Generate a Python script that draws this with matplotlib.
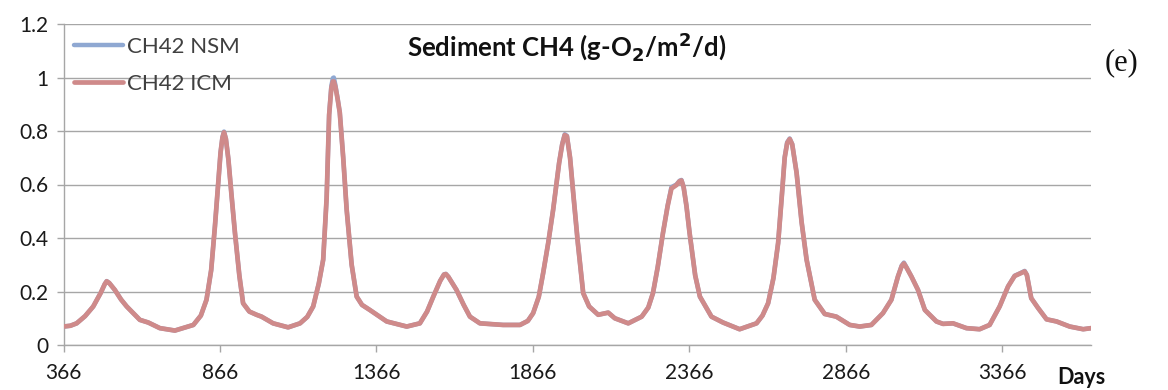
import matplotlib
matplotlib.use("Agg")
import matplotlib.pyplot as plt

# simulated sediment CH4 flux, daily output sampled along the run
days = [366, 388, 408, 435, 461, 485, 498, 504, 512, 530, 550, 568, 590, 610, 637,
        674, 722, 781, 805, 823, 838, 850, 860, 868, 874, 879, 885, 893, 903, 914,
        928, 940, 960, 983, 999, 1036, 1084, 1122, 1145, 1164, 1182, 1196, 1207,
        1215, 1222, 1227, 1230, 1235, 1242, 1249, 1260, 1271, 1287, 1303, 1320,
        1345, 1399, 1463, 1505, 1528, 1548, 1570, 1582, 1588, 1596, 1622, 1645,
        1665, 1697, 1771, 1825, 1850, 1867, 1885, 1899, 1915, 1931, 1950, 1960,
        1968, 1975, 1985, 1995, 2010, 2027, 2046, 2075, 2107, 2128, 2171, 2214,
        2235, 2250, 2265, 2282, 2297, 2309, 2325, 2335, 2341, 2348, 2357, 2367,
        2385, 2400, 2437, 2474, 2527, 2581, 2600, 2618, 2635, 2650, 2662, 2671,
        2679, 2687, 2695, 2709, 2725, 2741, 2767, 2799, 2836, 2879, 2911, 2948,
        2985, 3012, 3033, 3045, 3052, 3060, 3076, 3097, 3119, 3156, 3177, 3209,
        3252, 3294, 3326, 3358, 3385, 3406, 3425, 3438, 3445, 3459, 3481, 3508,
        3540, 3582, 3625, 3650]

ch4_icm = [0.069, 0.072, 0.081, 0.108, 0.144, 0.195, 0.228, 0.238, 0.232, 0.206,
           0.170, 0.144, 0.118, 0.094, 0.084, 0.063, 0.054, 0.075, 0.110, 0.169,
           0.280, 0.444, 0.600, 0.720, 0.775, 0.795, 0.770, 0.694, 0.560, 0.419,
           0.260, 0.156, 0.125, 0.113, 0.106, 0.081, 0.066, 0.081, 0.105, 0.144,
           0.230, 0.319, 0.550, 0.860, 0.960, 0.985, 0.985, 0.965, 0.920, 0.869,
           0.700, 0.506, 0.300, 0.181, 0.150, 0.131, 0.088, 0.069, 0.081, 0.125,
           0.181, 0.240, 0.263, 0.265, 0.255, 0.206, 0.150, 0.106, 0.081, 0.075,
           0.075, 0.090, 0.119, 0.180, 0.269, 0.380, 0.506, 0.680, 0.750, 0.785,
           0.780, 0.700, 0.569, 0.380, 0.194, 0.144, 0.113, 0.121, 0.100, 0.081,
           0.106, 0.140, 0.194, 0.290, 0.419, 0.520, 0.585, 0.598, 0.612, 0.615,
           0.590, 0.520, 0.419, 0.260, 0.181, 0.106, 0.084, 0.059, 0.081, 0.110,
           0.156, 0.250, 0.381, 0.560, 0.700, 0.755, 0.770, 0.750, 0.644, 0.460,
           0.319, 0.169, 0.116, 0.106, 0.075, 0.069, 0.075, 0.119, 0.169, 0.256,
           0.295, 0.305, 0.290, 0.256, 0.206, 0.131, 0.088, 0.079, 0.081, 0.063,
           0.059, 0.075, 0.144, 0.219, 0.258, 0.268, 0.275, 0.262, 0.175, 0.138,
           0.096, 0.088, 0.069, 0.059, 0.063]

ch4_nsm = [0.069, 0.072, 0.081, 0.108, 0.144, 0.195, 0.228, 0.239, 0.232, 0.206,
           0.170, 0.144, 0.118, 0.094, 0.084, 0.063, 0.054, 0.075, 0.110, 0.169,
           0.280, 0.444, 0.600, 0.720, 0.777, 0.798, 0.771, 0.694, 0.560, 0.419,
           0.260, 0.156, 0.125, 0.113, 0.106, 0.081, 0.066, 0.081, 0.105, 0.144,
           0.230, 0.319, 0.550, 0.862, 0.968, 0.998, 1.000, 0.972, 0.922, 0.869,
           0.700, 0.506, 0.300, 0.181, 0.150, 0.131, 0.088, 0.069, 0.081, 0.125,
           0.181, 0.240, 0.264, 0.266, 0.255, 0.206, 0.150, 0.106, 0.081, 0.075,
           0.075, 0.090, 0.119, 0.180, 0.269, 0.380, 0.506, 0.681, 0.752, 0.788,
           0.782, 0.700, 0.569, 0.380, 0.194, 0.144, 0.113, 0.121, 0.100, 0.081,
           0.106, 0.140, 0.194, 0.290, 0.419, 0.522, 0.590, 0.600, 0.614, 0.617,
           0.590, 0.520, 0.419, 0.260, 0.181, 0.106, 0.084, 0.059, 0.081, 0.110,
           0.156, 0.250, 0.381, 0.560, 0.702, 0.758, 0.772, 0.751, 0.644, 0.460,
           0.319, 0.169, 0.116, 0.106, 0.075, 0.069, 0.075, 0.119, 0.169, 0.256,
           0.297, 0.308, 0.291, 0.256, 0.206, 0.131, 0.088, 0.079, 0.081, 0.063,
           0.059, 0.075, 0.144, 0.219, 0.259, 0.269, 0.277, 0.262, 0.175, 0.138,
           0.096, 0.088, 0.069, 0.059, 0.063]

x_ticks = [366, 866, 1366, 1866, 2366, 2866, 3366]
y_ticks = [0, 0.2, 0.4, 0.6, 0.8, 1, 1.2]
y_labels = ["0", "0.2", "0.4", "0.6", "0.8", "1", "1.2"]

plt.rcParams['font.family'] = ['Lato', 'DejaVu Sans']

fig = plt.figure(figsize=(11.68, 3.9), dpi=100)
ax = fig.add_axes([63.5 / 1168, 45 / 390, 1027.5 / 1168, 321 / 390])

grid_col = '#a6a6a6'
ax.plot(days, ch4_nsm, color='#8fa8d2', lw=3.2, label='CH42 NSM', zorder=3,
        solid_joinstyle='round', solid_capstyle='round')
ax.plot(days, ch4_icm, color='#cf8a8a', lw=3.4, label='CH42 ICM', zorder=4,
        solid_joinstyle='round', solid_capstyle='round')

ax.set_xlim(366, 3650)
ax.set_ylim(0, 1.2)
ax.set_xticks(x_ticks)
ax.set_xticklabels([str(t) for t in x_ticks])
ax.set_yticks(y_ticks)
ax.set_yticklabels(y_labels)

ax.yaxis.grid(True, color=grid_col, lw=1.0)
ax.set_axisbelow(True)
for side in ['top', 'right']:
    ax.spines[side].set_visible(False)
for side in ['left', 'bottom']:
    ax.spines[side].set_color(grid_col)
    ax.spines[side].set_linewidth(1.0)
ax.tick_params(axis='both', colors=grid_col, labelcolor='#1a1a1a',
               labelsize=15, length=5, width=1.0, direction='out')
ax.tick_params(axis='x', pad=8)
ax.tick_params(axis='y', pad=6)

leg = ax.legend(loc='upper left', bbox_to_anchor=(0.0102, 0.96), frameon=False,
                fontsize=16, handlelength=2.2, handletextpad=0.2,
                labelspacing=0.75, borderaxespad=0, borderpad=0)
for txt in leg.get_texts():
    txt.set_color('#404040')

fig.text(567 / 1168, 1 - 47 / 390, r'Sediment CH4 (g-O$_\mathbf{2}$/m$^\mathbf{2}$/d)',
         ha='center', va='center', fontsize=18.5, fontweight='bold', color='#111111')
fig.text(1081 / 1168, 1 - 377 / 390, 'Days', ha='center', va='center',
         fontsize=15.5, fontweight='bold', color='#111111')
fig.text(1122 / 1168, 1 - 63 / 390, '(e)', ha='center', va='center',
         fontsize=22, family='Liberation Serif', color='#111111')

fig.savefig('out.png', dpi=100)
